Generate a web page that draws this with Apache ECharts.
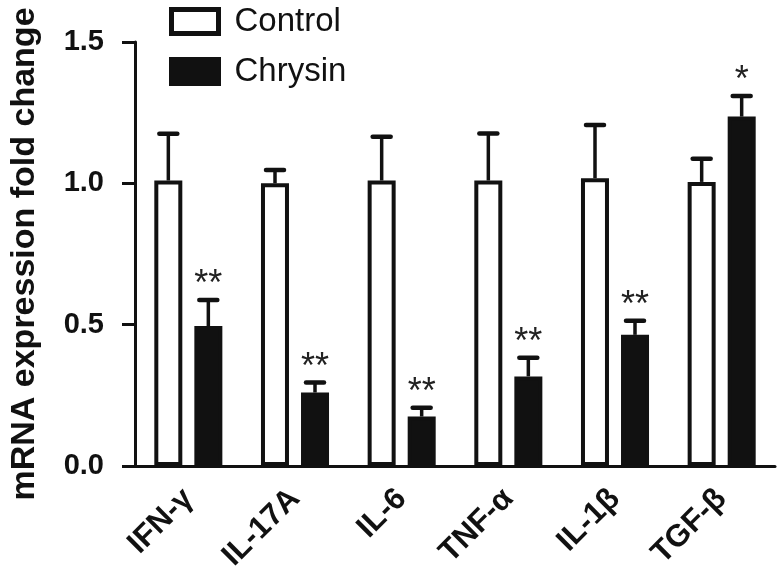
<!DOCTYPE html>
<html>
<head>
<meta charset="utf-8">
<script src="https://cdn.jsdelivr.net/npm/echarts@6/dist/echarts.min.js"></script>
<style>html,body{margin:0;padding:0;background:#fff;}#c{width:780px;height:576px;}</style>
</head>
<body>
<div id="c"></div>
<script>
const categories = ['IFN-γ', 'IL-17A', 'IL-6', 'TNF-α', 'IL-1β', 'TGF-β'];
const controlMean = [1.01, 1.0, 1.01, 1.01, 1.018, 1.005];
const controlErr = [0.165, 0.047, 0.155, 0.166, 0.188, 0.082];
const chrysinMean = [0.495, 0.26, 0.175, 0.317, 0.464, 1.236];
const chrysinErr = [0.092, 0.035, 0.031, 0.066, 0.05, 0.073];
const signif = ['**', '**', '**', '**', '**', '*'];
const yTicks = [0, 0.5, 1.0, 1.5];

const FONT = "'Liberation Sans', Arial, sans-serif";
const BAR_W = 28;
const BAR_GAP_PX = 12;
const OFFSET = (BAR_W + BAR_GAP_PX) / 2;

function errRender(meanArr, errArr, dir, labels) {
  return function (params, api) {
    const i = api.value(0);
    const top = api.coord([i, meanArr[i]]);
    const cap = api.coord([i, meanArr[i] + errArr[i]]);
    const x = top[0] + dir * OFFSET;
    const children = [
      { type: 'line', shape: { x1: x, y1: top[1], x2: x, y2: cap[1] },
        style: { stroke: '#111', lineWidth: 3.5 } },
      { type: 'line', shape: { x1: x - 9, y1: cap[1], x2: x + 9, y2: cap[1] },
        style: { stroke: '#111', lineWidth: 4.5, lineCap: 'round' } }
    ];
    if (labels) {
      children.push({ type: 'text', x: x, y: cap[1] - 15,
        style: { text: labels[i], fill: '#222', font: '36px ' + FONT,
          textAlign: 'center', textVerticalAlign: 'middle' } });
    }
    return { type: 'group', children: children };
  };
}

const chart = echarts.init(document.getElementById('c'), null, { renderer: 'canvas' });
chart.setOption({
  animation: false,
  backgroundColor: '#fff',
  textStyle: { fontFamily: FONT },
  grid: { left: 135, right: 5, top: 42, bottom: 110, containLabel: false },
  legend: {
    orient: 'vertical', left: 169, top: 5, itemGap: 17, padding: 0,
    itemWidth: 47, itemHeight: 24, icon: 'rect',
    textStyle: { fontSize: 33, color: '#111', fontFamily: FONT, padding: [0, 0, 0, 11] },
    data: [
      { name: 'Control', itemStyle: { color: '#fff', borderColor: '#111', borderWidth: 5 } },
      { name: 'Chrysin', itemStyle: { color: '#111', borderColor: '#111', borderWidth: 5 } }
    ]
  },
  xAxis: {
    type: 'category', data: categories,
    axisLine: { lineStyle: { color: '#111', width: 3 } },
    axisTick: { alignWithLabel: true, length: 13, lineStyle: { color: '#111', width: 3 } },
    axisLabel: { rotate: 45, margin: 28, fontSize: 31, fontWeight: 'bold', color: '#111', fontFamily: FONT, interval: 0 }
  },
  yAxis: {
    type: 'value', min: 0, max: 1.5, interval: 0.5,
    name: 'mRNA expression fold change', nameLocation: 'middle', nameGap: 93,
    nameTextStyle: { fontSize: 34, fontWeight: 'bold', color: '#111', fontFamily: FONT },
    axisLine: { show: true, lineStyle: { color: '#111', width: 3 } },
    axisTick: { show: true, length: 13, lineStyle: { color: '#111', width: 3 } },
    splitLine: { show: false },
    axisLabel: { margin: 31, fontSize: 29, fontWeight: 'bold', color: '#111', fontFamily: FONT,
      formatter: v => yTicks.indexOf(v) >= 0 ? v.toFixed(1) : '' }
  },
  series: [
    { name: 'Control', type: 'bar', data: controlMean, barWidth: BAR_W,
      barGap: (BAR_GAP_PX / BAR_W * 100).toFixed(0) + '%',
      itemStyle: { color: '#fff', borderColor: '#111', borderWidth: 4 }, z: 3 },
    { name: 'Chrysin', type: 'bar', data: chrysinMean, barWidth: BAR_W,
      itemStyle: { color: '#111', borderColor: '#111', borderWidth: 4 }, z: 3 },
    { type: 'custom', name: 'ctrlErr', data: categories.map((c, i) => [i]),
      renderItem: errRender(controlMean, controlErr, -1, null), z: 4, silent: true },
    { type: 'custom', name: 'chrErr', data: categories.map((c, i) => [i]),
      renderItem: errRender(chrysinMean, chrysinErr, 1, signif), z: 4, silent: true }
  ]
});
</script>
</body>
</html>
